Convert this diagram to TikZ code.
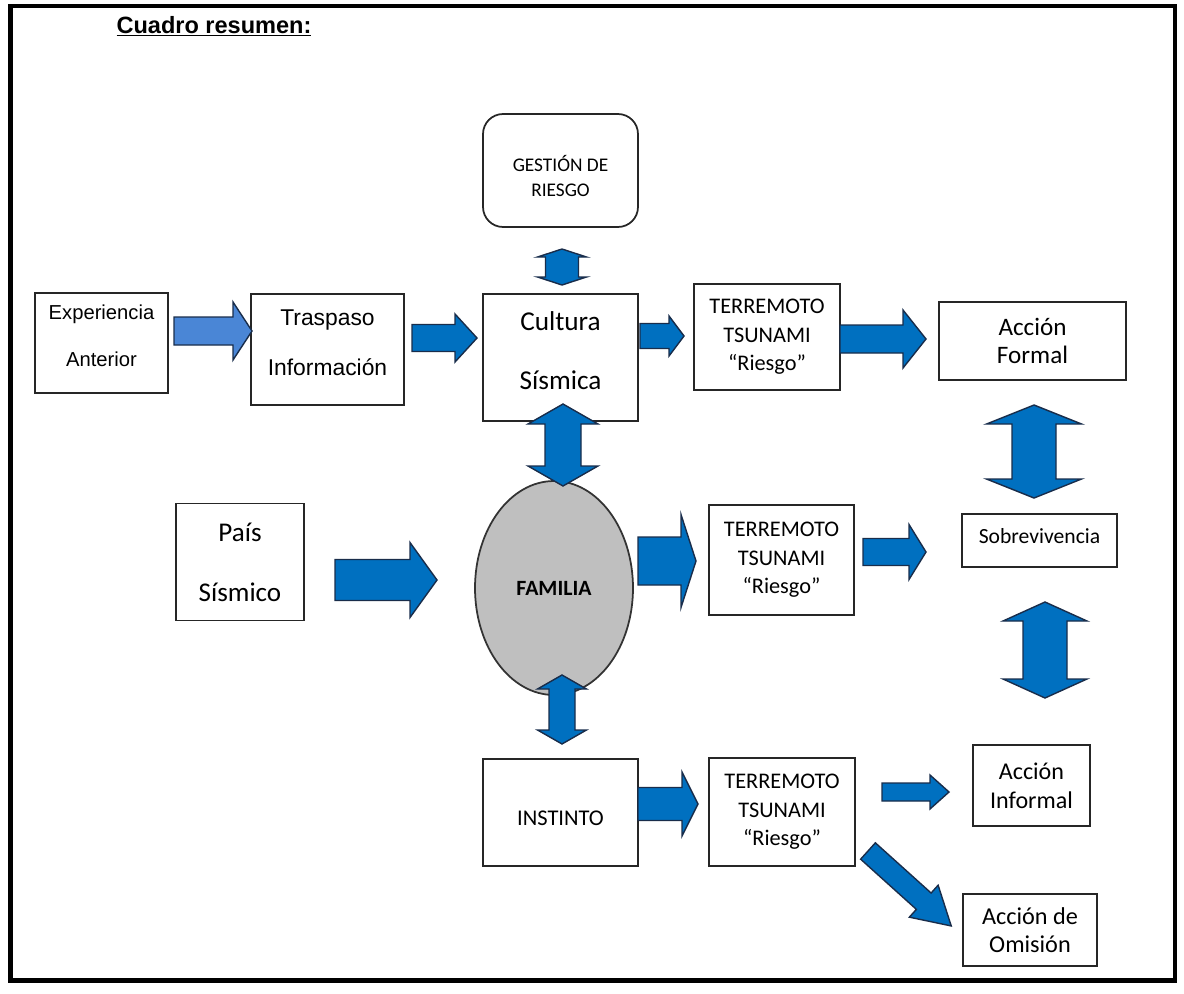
\documentclass[tikz,border=0pt]{standalone}
\usepackage{fontspec}
\setmainfont{Carlito}
\newfontfamily\arialfont{Liberation Sans}
\usetikzlibrary{shapes.geometric}
\definecolor{arrowblue}{RGB}{0,112,192}
\definecolor{arrowlight}{RGB}{74,134,214}
\definecolor{arrowline}{RGB}{25,45,75}
\definecolor{famgray}{RGB}{191,191,191}
\colorlet{arrowfillcol}{arrowblue}
\newcommand\boxfont[2]{\fontsize{#1}{#2}\selectfont}
\tikzset{
  box/.style={draw=black!85, line width=1pt, inner sep=0pt, align=center},
  boxtext/.style={inner sep=0pt, align=center},
  blockarrow/.style={draw=arrowline, line width=0.8pt, fill=arrowfillcol, line join=miter},
  arrow color/.code={\colorlet{arrowfillcol}{#1}},
  pics/harrow/.style args={#1/#2/#3/#4}{code={%
    \draw[blockarrow] (0,-#2/2) -- (#1-#4,-#2/2) -- (#1-#4,-#3/2) -- (#1,0)
      -- (#1-#4,#3/2) -- (#1-#4,#2/2) -- (0,#2/2) -- cycle;}},
  pics/darrow/.style args={#1/#2/#3/#4}{code={%
    \draw[blockarrow] (0,0) -- (#4,-#3/2) -- (#4,-#2/2) -- (#1-#4,-#2/2) -- (#1-#4,-#3/2)
      -- (#1,0) -- (#1-#4,#3/2) -- (#1-#4,#2/2) -- (#4,#2/2) -- (#4,#3/2) -- cycle;}}
}
\begin{document}
\begin{tikzpicture}[x=0.02cm,y=-0.02cm]
  \useasboundingbox (0,0) rectangle (1184,994);
  % Frame round the whole chart
  \draw[line width=2.8pt] (10.5,6) rectangle (1175,980.5);%

  % Title
  \node[font=\arialfont\bfseries\boxfont{13.4}{16}, anchor=base] (title) at (214,33) {\underline{Cuadro resumen:}};%

  % Boxes of the first row
  \node[box, minimum width=2.66cm, minimum height=2cm] (exp) at (101.5,343) {};%
  \node[boxtext, font=\arialfont\boxfont{11.5}{26.6}] (expText) at ([yshift=4pt]exp.center) {Experiencia\\Anterior};%
  \node[box, minimum width=3.06cm, minimum height=2.22cm] (tras) at (327.5,349.5) {};%
  \node[boxtext, font=\arialfont\boxfont{13}{28.3}] (trasText) at ([yshift=4pt]tras.center) {Traspaso\\Información};%
  \node[box, minimum width=3.1cm, minimum height=2.54cm] (cult) at (560.5,357.5) {};%
  \node[boxtext, font=\boxfont{15.5}{33.5}] (cultText) at ([yshift=4pt]cult.center) {Cultura\\Sísmica};%
  \node[box, rounded corners=0.4cm, minimum width=3.1cm, minimum height=2.26cm] (gest) at (560.5,170.5) {};%
  \node[boxtext, font=\boxfont{11}{14.2}] (gestText) at ([yshift=-3pt]gest.center) {GESTIÓN DE\\RIESGO};%
  \node[box, minimum width=2.92cm, minimum height=2.12cm, font=\boxfont{12.7}{16.2}] (tsuA) at (767,337) {TERREMOTO\\TSUNAMI\\“Riesgo”};%
  \node[box, minimum width=3.74cm, minimum height=1.56cm, font=\boxfont{14.3}{16.4}] (formal) at (1032.5,341) {Acción\\Formal};%

  % Boxes of the middle row
  \node[box, minimum width=2.56cm, minimum height=2.34cm, font=\boxfont{15.4}{34}] (pais) at (240,562) {País\\Sísmico};%
  \node[box, ellipse, fill=famgray, draw=black!80, minimum width=3.16cm, minimum height=4.28cm, font=\bfseries\boxfont{12.4}{15}] (fam) at (554,588) {FAMILIA};%
  \node[box, minimum width=2.9cm, minimum height=2.2cm, font=\boxfont{12.7}{16.2}] (tsuB) at (781.5,560) {TERREMOTO\\TSUNAMI\\“Riesgo”};%
  \node[box, minimum width=3.1cm, minimum height=1.06cm] (sobre) at (1039.5,540.5) {};%
  \node[boxtext, font=\boxfont{12.3}{15}] (sobreText) at ([yshift=2.8pt]sobre.center) {Sobrevivencia};%

  % Boxes of the last row
  \node[box, minimum width=3.1cm, minimum height=2.14cm] (inst) at (560.5,812.5) {};%
  \node[boxtext, font=\boxfont{12.8}{15}] (instText) at ([yshift=-3.4pt]inst.center) {INSTINTO};%
  \node[box, minimum width=2.92cm, minimum height=2.16cm, font=\boxfont{12.7}{16.2}] (tsuC) at (782,812) {TERREMOTO\\TSUNAMI\\“Riesgo”};%
  \node[box, minimum width=2.34cm, minimum height=1.62cm, font=\boxfont{13.7}{16.4}] (informal) at (1031.5,785.5) {Acción\\Informal};%
  \node[box, minimum width=2.68cm, minimum height=1.44cm, font=\boxfont{13.8}{15.9}] (omis) at (1030,930) {Acción de\\Omisión};%

  % Block arrows, length/shaft/head/head length in pixels
  \pic[arrow color=arrowlight] at (174,331) {harrow=78/28/58/19};%
  \pic at (412,338) {harrow=65/27/48/22};%
  \pic at (640,336) {harrow=44/25/40/15};%
  \pic at (840,339) {harrow=86/28/58/23};%
  \pic at (335,580) {harrow=102/41/75/27};%
  \pic at (638,561) {harrow=58/48/93/15};%
  \pic at (863,552) {harrow=63/27/55/17};%
  \pic at (638,804) {harrow=60/33/64/16};%
  \pic at (882,792) {harrow=67/18/34/19};%
  \pic[rotate=-42] at (868,851) {harrow=112/22/43/37};%

  % Double arrows, drawn from the upper tip downwards
  \pic[rotate=-90] at (562,249) {darrow=36/33/49/8};%
  \pic[rotate=-90] at (563,404) {darrow=82/36/70/20};%
  \pic[rotate=-90] at (562,675) {darrow=69/26/49/14};%
  \pic[rotate=-90] at (1034,405) {darrow=93/44/95/19};%
  \pic[rotate=-90] at (1045,602) {darrow=96/44/84/19};%
\end{tikzpicture}
\end{document}
